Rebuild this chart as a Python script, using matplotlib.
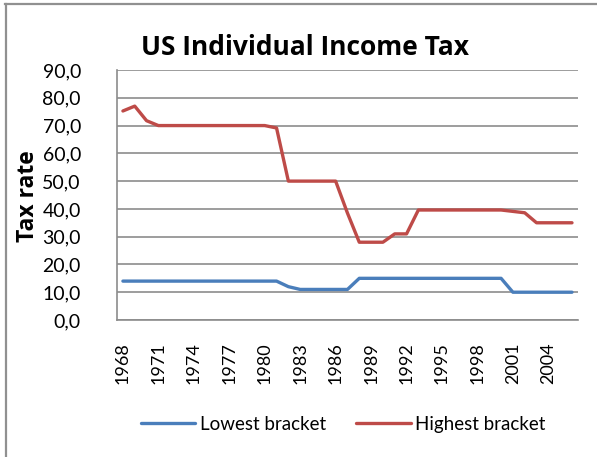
import matplotlib.pyplot as plt
from matplotlib.lines import Line2D

years = list(range(1968, 2007))
lowest = [14, 14, 14, 14, 14, 14, 14, 14, 14, 14, 14, 14, 14, 14,
          12, 11, 11, 11, 11, 11,
          15, 15, 15, 15, 15, 15, 15, 15, 15, 15, 15, 15, 15,
          10, 10, 10, 10, 10, 10]
highest = [75.25, 77, 71.75, 70, 70, 70, 70, 70, 70, 70, 70, 70, 70, 69.13,
           50, 50, 50, 50, 50, 38.5,
           28, 28, 28, 31, 31,
           39.6, 39.6, 39.6, 39.6, 39.6, 39.6, 39.6, 39.6,
           39.1, 38.6, 35, 35, 35, 35]
yticks = [0, 10, 20, 30, 40, 50, 60, 70, 80, 90]

plt.rcParams["font.family"] = ["Lato", "DejaVu Sans"]
bold_font = ["Open Sans", "DejaVu Sans"]

fig = plt.figure(figsize=(5.97, 4.57), dpi=100)
ax = fig.add_axes([0.196, 0.2998, 0.772, 0.547])

x = list(range(len(years)))
ax.plot(x, lowest, color="#4A7EBB", lw=2.4, label="Lowest bracket", solid_capstyle="round")
ax.plot(x, highest, color="#BE4B48", lw=2.4, label="Highest bracket", solid_capstyle="round")

ax.set_xlim(-0.5, len(years) - 0.5)
ax.set_ylim(0, 90)
ax.set_yticks(yticks)
ax.set_yticklabels([f"{v:.1f}".replace(".", ",") for v in yticks], fontsize=14)
ax.set_xticks(x[::3])
ax.set_xticklabels([str(y) for y in years[::3]], rotation=90, fontsize=13)
ax.grid(axis="y", color="#8c8c8c", lw=1.2)
ax.set_axisbelow(True)
for s in ["top", "right"]:
    ax.spines[s].set_visible(False)
for s in ["left", "bottom"]:
    ax.spines[s].set_color("#8c8c8c")
    ax.spines[s].set_linewidth(1.2)
ax.xaxis.set_tick_params(length=0, pad=16)
ax.yaxis.set_tick_params(length=0)
ax.yaxis.set_tick_params(pad=26)

fig.text(28 / 597, 1 - 196 / 457, "Tax rate", rotation=90, ha="center", va="center",
         fontsize=16.5, fontweight="bold", family=bold_font)
fig.text(305 / 597, 1 - 55 / 457, "US Individual Income Tax", ha="center", va="baseline",
         fontsize=19, fontweight="bold", family=bold_font)

fig.legend(loc="center", bbox_to_anchor=(0.575, 0.072), ncol=2, frameon=False,
           fontsize=13.5, handlelength=2.9, handletextpad=0.25, columnspacing=1.6)

# chart border (only top and left edges visible in the crop)
fig.add_artist(Line2D([5 / 597, 1], [1 - 3.5 / 457, 1 - 3.5 / 457], transform=fig.transFigure,
                      color="#909090", lw=1.6))
fig.add_artist(Line2D([5.5 / 597, 5.5 / 597], [0, 1 - 3.5 / 457], transform=fig.transFigure,
                      color="#909090", lw=1.6))

fig.savefig("out.png", dpi=100)
